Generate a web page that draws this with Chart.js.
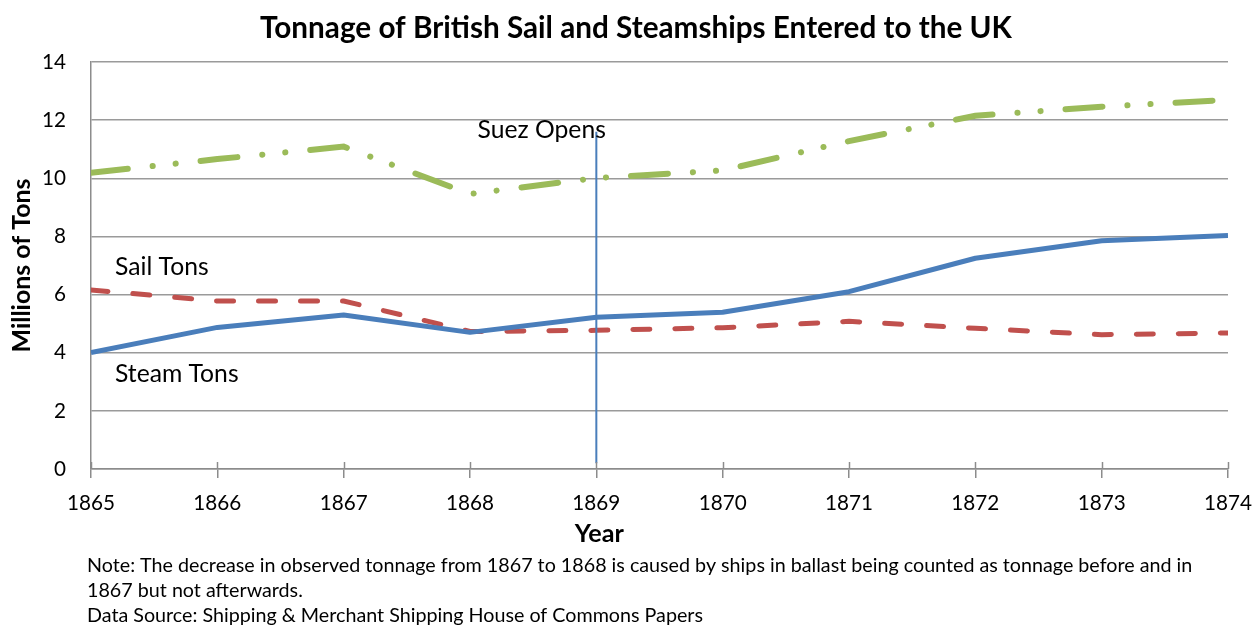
<!DOCTYPE html>
<html>
<head>
<meta charset="utf-8">
<script src="https://cdn.jsdelivr.net/npm/chart.js@4"></script>
<style>
  html, body { margin: 0; padding: 0; background: #fff; }
  #wrap { width: 1257px; height: 625px; position: relative; }
</style>
</head>
<body>
<div id="wrap"><canvas id="c" width="1257" height="625"></canvas></div>
<script>
const years = [1865, 1866, 1867, 1868, 1869, 1870, 1871, 1872, 1873, 1874];
const steamTons = [4.01, 4.87, 5.30, 4.70, 5.22, 5.39, 6.10, 7.25, 7.85, 8.03];
const sailTons = [6.16, 5.78, 5.78, 4.73, 4.77, 4.86, 5.08, 4.84, 4.62, 4.68];
const totalTons = [10.19, 10.66, 11.09, 9.46, 10.01, 10.27, 11.28, 12.15, 12.46, 12.70];
const suezYear = 1869;
const suezLine = [11.6, 0.2];
const yTicks = [0, 2, 4, 6, 8, 10, 12, 14];

const chartTitle = 'Tonnage of British Sail and Steamships Entered to the UK';
const xTitle = 'Year';
const yTitle = 'Millions of Tons';
const noteLines = [
  'Note: The decrease in observed tonnage from 1867 to 1868 is caused by ships in ballast being counted as tonnage before and in',
  '1867 but not afterwards.',
  'Data Source: Shipping & Merchant Shipping House of Commons Papers'
];
const annotations = [
  { text: 'Suez Opens', x: 1868.06, y: 11.66 },
  { text: 'Sail Tons', x: 1865.19, y: 6.95 },
  { text: 'Steam Tons', x: 1865.19, y: 3.27 }
];

const FONT = 'Lato, "Open Sans", sans-serif';

// size fonts so that text widths match the reference
const mctx = document.createElement('canvas').getContext('2d');
function fit(text, weight, target) {
  mctx.font = weight + ' 100px ' + FONT;
  return 100 * target / mctx.measureText(text).width;
}
const titleSize = fit(chartTitle, 'bold', 752);
const tickSize = fit('1865', 'normal', 48);
const yTitleSize = fit(yTitle, 'bold', 174);
const xTitleSize = fit(xTitle, 'bold', 49);
const annSize = (fit('Suez Opens', 'normal', 125) + fit('Sail Tons', 'normal', 95) + fit('Steam Tons', 'normal', 125)) / 3;
const noteSize = fit(noteLines[0], 'normal', 1106);

const toPts = arr => years.map((yr, i) => ({ x: yr, y: arr[i] }));

const textPlugin = {
  id: 'texts',
  afterDraw(chart) {
    const ctx = chart.ctx;
    const xs = chart.scales.x, ys = chart.scales.y;
    ctx.save();
    ctx.fillStyle = '#000';
    ctx.textBaseline = 'middle';
    // title
    ctx.font = 'bold ' + titleSize + 'px ' + FONT;
    ctx.textAlign = 'center';
    ctx.fillText(chartTitle, 636, 28);
    // x title
    ctx.font = 'bold ' + xTitleSize + 'px ' + FONT;
    ctx.fillText(xTitle, xs.getPixelForValue(suezYear) + 3, 534);
    // y title
    ctx.save();
    ctx.translate(22, (ys.top + ys.bottom) / 2);
    ctx.rotate(-Math.PI / 2);
    ctx.font = 'bold ' + yTitleSize + 'px ' + FONT;
    ctx.fillText(yTitle, 0, 0);
    ctx.restore();
    // annotations
    ctx.font = annSize + 'px ' + FONT;
    ctx.textAlign = 'left';
    annotations.forEach(a => {
      ctx.fillText(a.text, xs.getPixelForValue(a.x), ys.getPixelForValue(a.y));
    });
    // notes
    ctx.font = noteSize + 'px ' + FONT;
    noteLines.forEach((t, i) => {
      ctx.fillText(t, 87, 566 + i * 25);
    });
    // x tick crosses above axis
    ctx.strokeStyle = '#8c8c8c';
    ctx.lineWidth = 1.5;
    years.forEach(yr => {
      const px = Math.round(xs.getPixelForValue(yr)) + 0.5;
      ctx.beginPath();
      ctx.moveTo(px, ys.bottom - 7);
      ctx.lineTo(px, ys.bottom);
      ctx.stroke();
    });
    ctx.restore();
  }
};

new Chart(document.getElementById('c'), {
  type: 'line',
  data: {
    datasets: [
      {
        label: 'Suez',
        data: suezLine.map(v => ({ x: suezYear, y: v })),
        borderColor: '#4a7ebb',
        borderWidth: 2,
        pointRadius: 0,
        order: 0
      },
      {
        label: 'Steam Tons',
        data: toPts(steamTons),
        borderColor: '#4a7ebb',
        borderWidth: 5,
        pointRadius: 0,
        tension: 0,
        borderJoinStyle: 'round',
        order: 1
      },
      {
        label: 'Sail Tons',
        data: toPts(sailTons),
        borderColor: '#c0504d',
        borderWidth: 5,
        borderDash: [17, 25],
        borderCapStyle: 'round',
        pointRadius: 0,
        tension: 0,
        order: 2
      },
      {
        label: 'Total',
        data: toPts(totalTons),
        borderColor: '#9bbb59',
        borderWidth: 6,
        borderDash: [37, 25, 0.1, 23, 0.1, 25],
        borderCapStyle: 'round',
        pointRadius: 0,
        tension: 0,
        order: 3
      }
    ]
  },
  options: {
    responsive: false,
    animation: false,
    events: [],
    layout: { padding: { left: 0, right: 29, top: 62, bottom: 0 } },
    plugins: {
      legend: { display: false },
      title: { display: false },
      tooltip: { enabled: false }
    },
    scales: {
      x: {
        type: 'linear',
        min: years[0],
        max: years[years.length - 1],
        afterBuildTicks: s => { s.ticks = years.map(v => ({ value: v })); },
        ticks: {
          callback: v => String(v),
          color: '#000',
          font: { family: FONT, size: tickSize },
          padding: Math.max(0, 501 - 478 - 0.5 * tickSize),
          maxRotation: 0,
          autoSkip: false
        },
        grid: { drawOnChartArea: false, drawTicks: true, tickLength: 9, color: '#8c8c8c', lineWidth: 1.5 },
        border: { color: '#8c8c8c', width: 1.5 },
        afterFit: s => { s.height = 156; s.paddingLeft = 0; s.paddingRight = 0; }
      },
      y: {
        min: 0,
        max: 14,
        afterBuildTicks: s => { s.ticks = yTicks.map(v => ({ value: v })); },
        ticks: {
          color: '#000',
          font: { family: FONT, size: tickSize },
          padding: 25
        },
        grid: { color: '#9a9a9a', lineWidth: 1.5, drawTicks: false },
        border: { color: '#8c8c8c', width: 1.5 },
        afterFit: s => { s.width = 91; s.paddingTop = 0; s.paddingBottom = 0; }
      }
    }
  },
  plugins: [textPlugin]
});
</script>
</body>
</html>
